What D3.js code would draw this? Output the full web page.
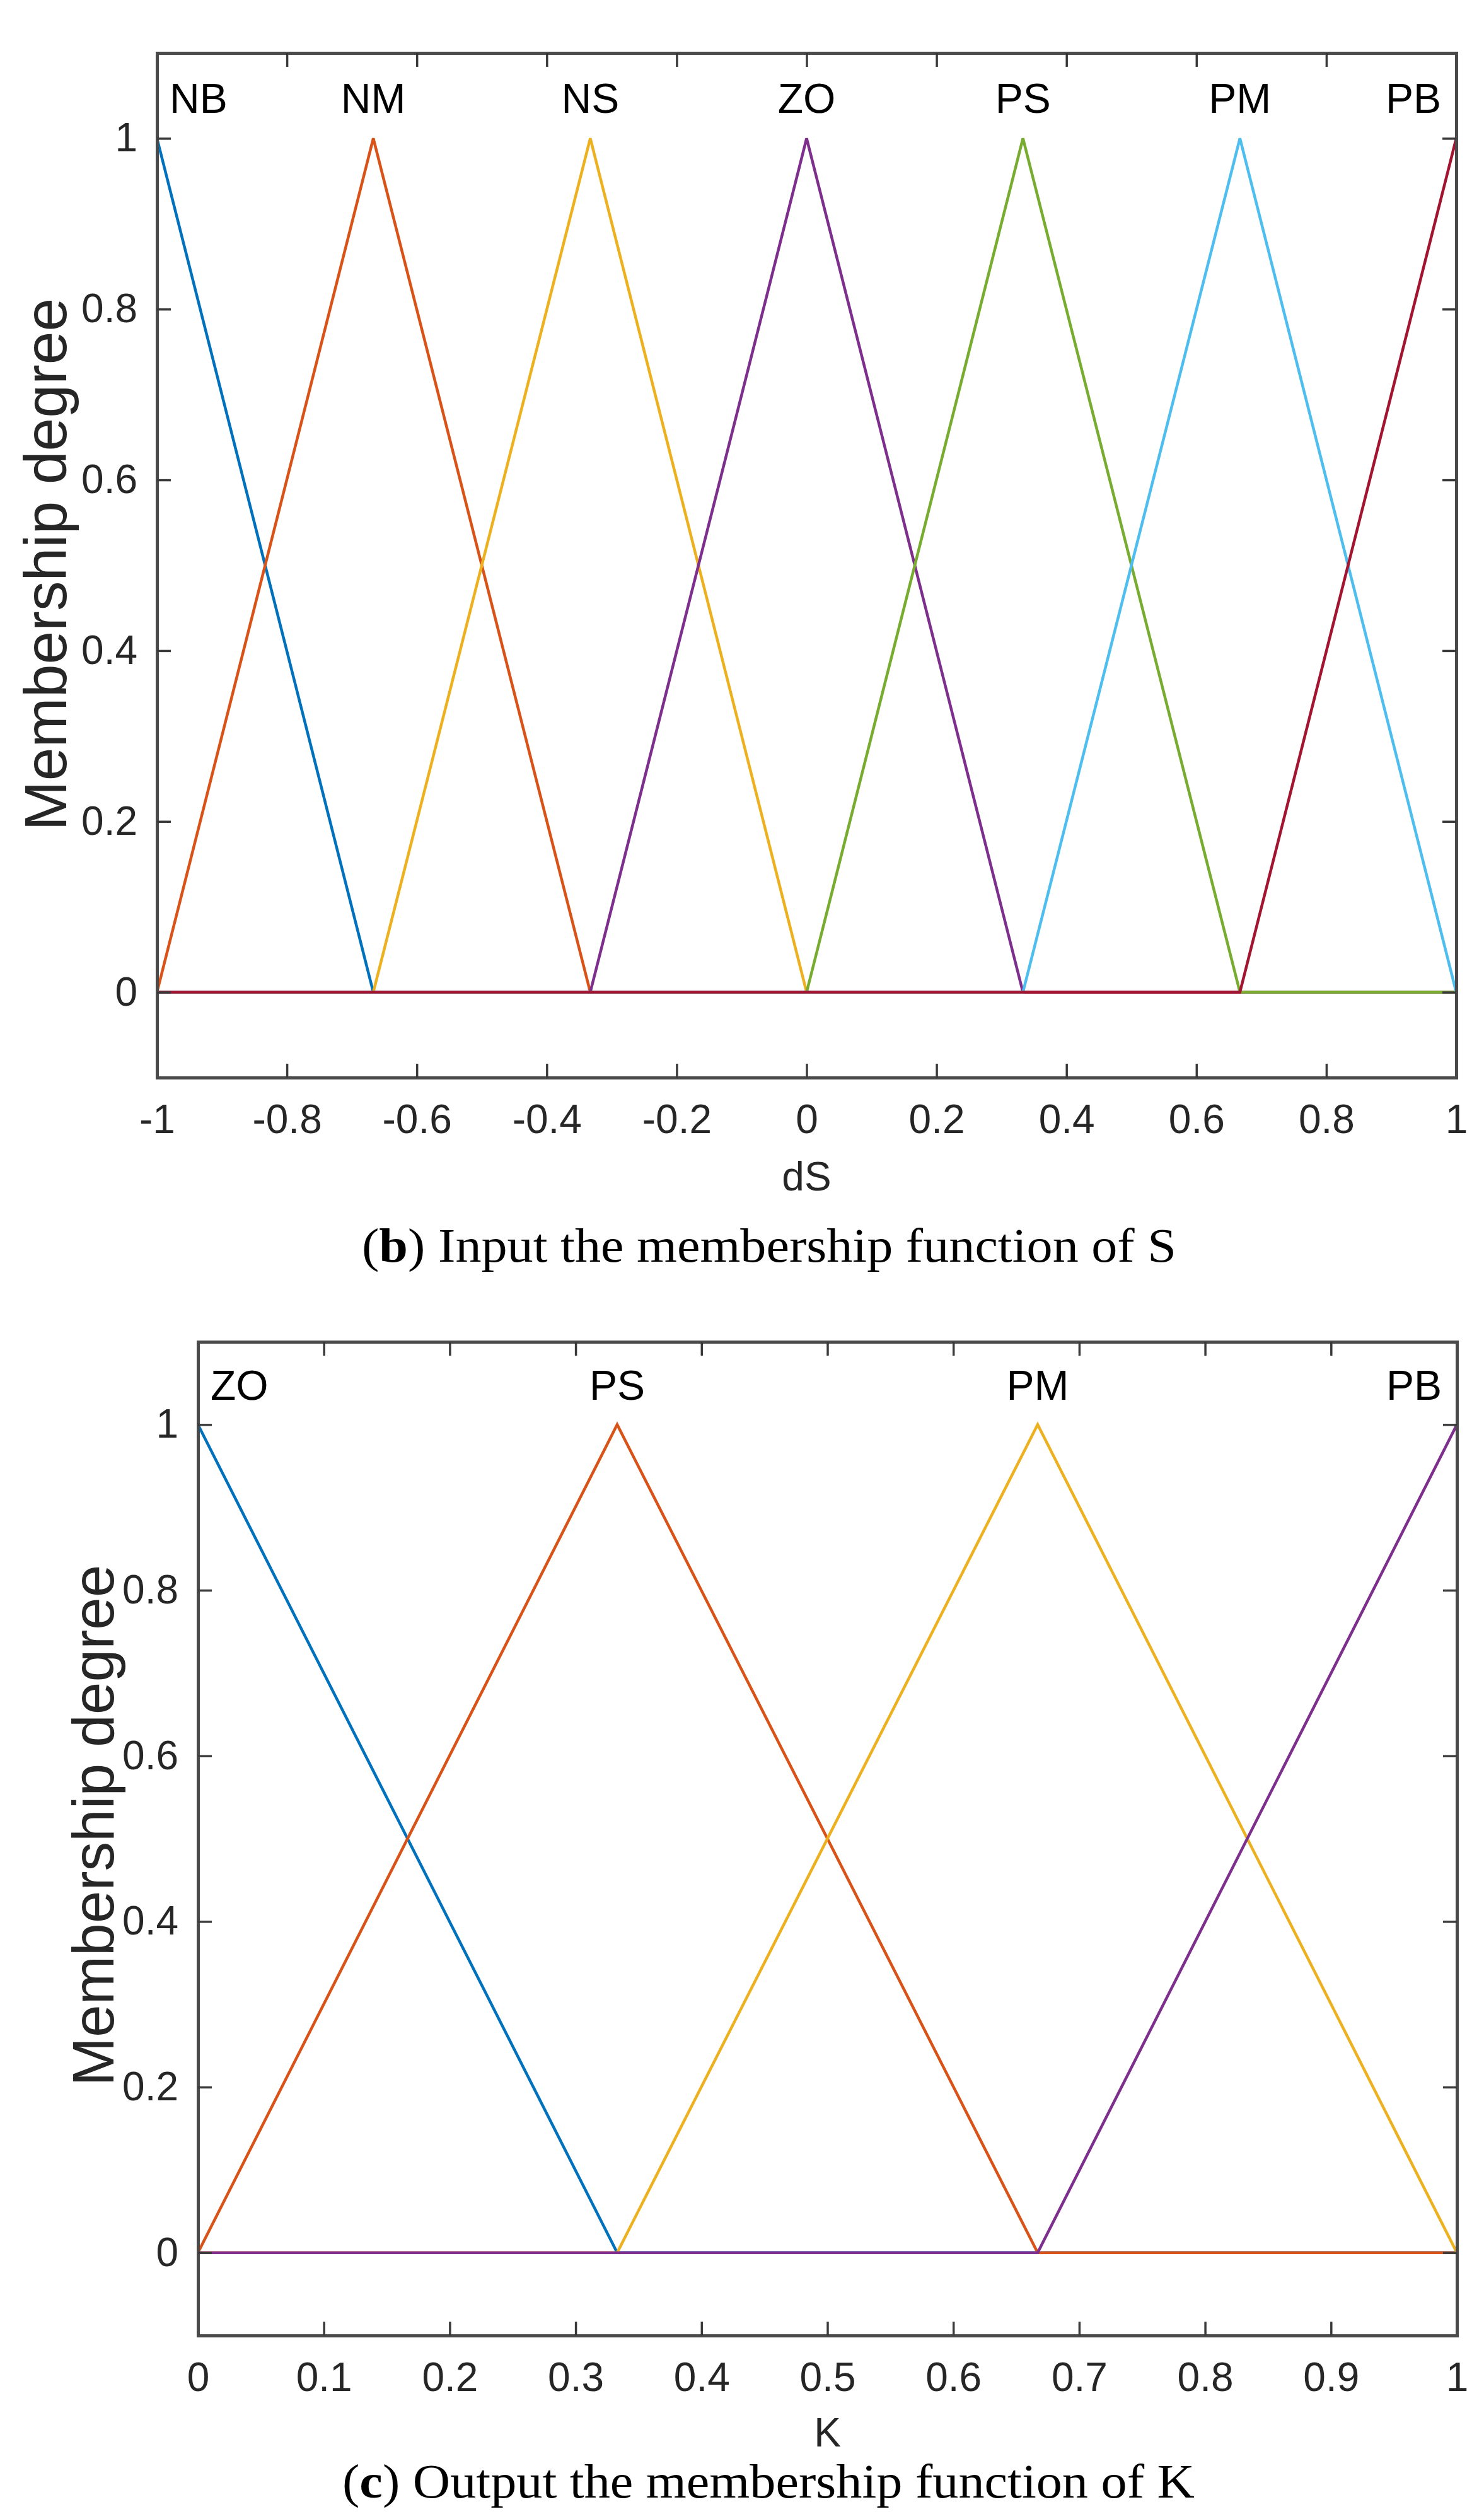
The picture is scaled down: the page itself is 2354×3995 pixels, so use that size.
<!DOCTYPE html>
<html>
<head>
<meta charset="utf-8">
<script src="https://cdn.jsdelivr.net/npm/d3@7"></script>
<style>
  body { margin: 0; background: #fff; }
  svg { display: block; }
</style>
</head>
<body>
<div id="chart"></div>
<script>
// membership functions of S (input) — vertices
var sLabels = ["NB", "NM", "NS", "ZO", "PS", "PM", "PB"];
var sPoints = [
    [[-1, 1], [-0.667, 0], [1, 0]],
    [[-1, 0], [-0.667, 1], [-0.333, 0], [1, 0]],
    [[-1, 0], [-0.667, 0], [-0.333, 1], [0, 0], [1, 0]],
    [[-1, 0], [-0.333, 0], [0, 1], [0.333, 0], [1, 0]],
    [[-1, 0], [0, 0], [0.333, 1], [0.667, 0], [1, 0]],
    [[-1, 0], [0.333, 0], [0.667, 1], [1, 0]],
    [[-1, 0], [0.667, 0], [1, 1]]
];
var sTicks = [-1, -0.8, -0.6, -0.4, -0.2, 0, 0.2, 0.4, 0.6, 0.8, 1];

// membership functions of K (output)
var kLabels = ["ZO", "PS", "PM", "PB"];
var kPoints = [
    [[0, 1], [0.333, 0], [1, 0]],
    [[0, 0], [0.333, 1], [0.667, 0], [1, 0]],
    [[0, 0], [0.333, 0], [0.667, 1], [1, 0]],
    [[0, 0], [0.667, 0], [1, 1]]
];
var kTicks = [0, 0.1, 0.2, 0.3, 0.4, 0.5, 0.6, 0.7, 0.8, 0.9, 1];

var yTicks = [0, 0.2, 0.4, 0.6, 0.8, 1];

var colors = ["#0072BD", "#D95319", "#EDB120", "#7E2F8E", "#77AC30", "#4DBEEE", "#A2142F"];

var W = 2354, H = 3995;
var sans = "'Liberation Sans', Arial, sans-serif";
var serif = "'Liberation Serif', 'Times New Roman', serif";

var svg = d3.select("#chart").append("svg")
    .attr("width", W)
    .attr("height", H);

function fmt(d) { return String(+d.toFixed(1)); }

function drawPanel(opt) {
    var x = d3.scaleLinear().domain(opt.xDomain).range([opt.left, opt.right]);
    var y = d3.scaleLinear().domain([-0.1, 1.1]).range([opt.bottom, opt.top]);

    var g = svg.append("g");

    // lines
    var line = d3.line().x(d => x(d[0])).y(d => y(d[1]));
    g.selectAll(".mf")
        .data(opt.points)
        .enter().append("path")
        .attr("class", "mf")
        .attr("d", line)
        .attr("fill", "none")
        .attr("stroke", (d, i) => colors[i])
        .attr("stroke-width", 4.5)
        .attr("stroke-linejoin", "miter");

    // labels over the peaks
    var n = opt.labels.length;
    g.selectAll(".mflabel")
        .data(opt.labels)
        .enter().append("text")
        .attr("class", "mflabel")
        .attr("x", function(d, i) {
            var peak = opt.points[i].find(p => p[1] === 1)[0];
            if (i === 0) return x(peak) + 20;
            if (i === n - 1) return x(peak) - 24;
            return x(peak);
        })
        .attr("y", y(1.03))
        .attr("text-anchor", (d, i) => i === 0 ? "start" : (i === n - 1 ? "end" : "middle"))
        .attr("font-family", sans)
        .attr("font-size", 66)
        .attr("fill", "#000")
        .text(d => d);

    // axes, ticks inside on all four sides
    var bottom = g.append("g")
        .attr("transform", "translate(0," + opt.bottom + ")")
        .call(d3.axisBottom(x).tickValues(opt.xTicks).tickFormat(fmt)
            .tickSizeInner(-22).tickSizeOuter(0).tickPadding(43));
    var top = g.append("g")
        .attr("transform", "translate(0," + opt.top + ")")
        .call(d3.axisTop(x).tickValues(opt.xTicks).tickFormat("")
            .tickSizeInner(-22).tickSizeOuter(0));
    var left = g.append("g")
        .attr("transform", "translate(" + opt.left + ",0)")
        .call(d3.axisLeft(y).tickValues(yTicks).tickFormat(fmt)
            .tickSizeInner(-22).tickSizeOuter(0).tickPadding(31));
    var right = g.append("g")
        .attr("transform", "translate(" + opt.right + ",0)")
        .call(d3.axisRight(y).tickValues(yTicks).tickFormat("")
            .tickSizeInner(-22).tickSizeOuter(0));

    [bottom, top, left, right].forEach(function(a) {
        a.select(".domain")
            .attr("stroke", "#4a4a4a")
            .attr("stroke-width", 5)
            .attr("stroke-linecap", "square");
        a.selectAll(".tick line")
            .attr("stroke", "#3a3a3a")
            .attr("stroke-width", 3.5);
        a.selectAll(".tick text")
            .attr("font-family", sans)
            .attr("font-size", 64)
            .attr("fill", "#262626");
    });

    // axis titles
    g.append("text")
        .attr("x", x((opt.xDomain[0] + opt.xDomain[1]) / 2))
        .attr("y", opt.xTitleY)
        .attr("text-anchor", "middle")
        .attr("font-family", sans)
        .attr("font-size", 64)
        .attr("fill", "#262626")
        .text(opt.xTitle);

    g.append("text")
        .attr("transform", "translate(" + opt.yTitleX + "," + opt.yTitleCY + ") rotate(-90)")
        .attr("text-anchor", "middle")
        .attr("font-family", sans)
        .attr("font-size", opt.yTitleSize)
        .attr("fill", "#262626")
        .text("Membership degree");

    // caption
    var cap = g.append("text")
        .attr("x", opt.capX)
        .attr("y", opt.capY)
        .attr("font-family", serif)
        .attr("font-size", 76)
        .attr("fill", "#000")
        .attr("textLength", opt.capLen)
        .attr("lengthAdjust", "spacingAndGlyphs");
    cap.append("tspan").text("(");
    cap.append("tspan").attr("font-weight", "bold").text(opt.capLetter);
    cap.append("tspan").text(") " + opt.capText);
}

drawPanel({
    xDomain: [-1, 1], left: 249, right: 2310, top: 84, bottom: 1709,
    points: sPoints, labels: sLabels, xTicks: sTicks,
    xTitle: "dS", xTitleY: 1888,
    yTitleX: 105, yTitleCY: 895, yTitleSize: 95,
    capX: 574, capY: 2001, capLen: 1292, capLetter: "b",
    capText: "Input the membership function of S"
});

drawPanel({
    xDomain: [0, 1], left: 314, right: 2311, top: 2128, bottom: 3704,
    points: kPoints, labels: kLabels, xTicks: kTicks,
    xTitle: "K", xTitleY: 3880,
    yTitleX: 180, yTitleCY: 2895, yTitleSize: 93,
    capX: 543, capY: 3961, capLen: 1352, capLetter: "c",
    capText: "Output the membership function of K"
});
</script>
</body>
</html>
